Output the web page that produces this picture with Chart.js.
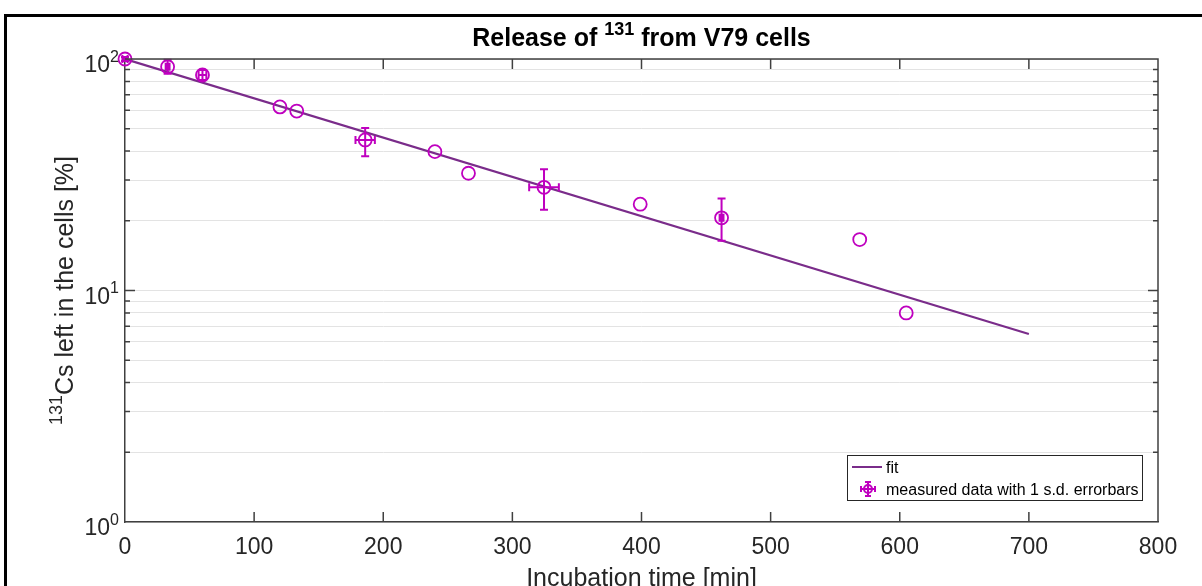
<!DOCTYPE html>
<html>
<head>
<meta charset="utf-8">
<script src="https://cdn.jsdelivr.net/npm/chart.js@4"></script>
<style>
  html, body { margin: 0; padding: 0; background: #fff; }
  canvas { display: block; }
</style>
</head>
<body>
<canvas id="releaseChart" width="1202" height="586"></canvas>
<script>
// measured points
const timeMin = [0, 33, 60, 120, 133, 186, 240, 266, 324.5, 399, 462, 569, 605];
const cellsLeft = [100, 92.6, 85.3, 62.1, 59.6, 44.7, 39.8, 32.1, 27.9, 23.6, 20.6, 16.6, 8.0];
// 1 s.d. error bars (0 = none drawn)
const timeErr = [2, 1.5, 3, 0, 0, 7.5, 0, 0, 11.5, 0, 1.5, 0, 0];
const cellsLow = [98, 86.3, 81.2, 0, 0, 38, 0, 0, 22.3, 0, 16.4, 0, 0];
const cellsHigh = [102, 99.2, 89.6, 0, 0, 50.4, 0, 0, 33.4, 0, 25.0, 0, 0];

// exponential fit, end points
const fitTime = [0, 700];
const fitValue = [100, 6.49];

// axes
const xTicks = [0, 100, 200, 300, 400, 500, 600, 700, 800];
const yGridValues = [1, 2, 3, 4, 5, 6, 7, 8, 9, 10, 20, 30, 40, 50, 60, 70, 80, 90, 100];
const yDecades = [1, 10, 100];

const FONT = "'Liberation Sans', Arial, Helvetica, sans-serif";
const dataColor = '#bf00bf';
const fitColor = '#7a2c8a';
const axisColor = '#404040';
const textColor = '#262626';

function drawErrorBar(ctx, cx, cy, xl, xr, yt, yb, cap) {
    ctx.beginPath();
    if (yt !== null) {
        ctx.moveTo(cx, yt); ctx.lineTo(cx, yb);
        ctx.moveTo(cx - cap, yt); ctx.lineTo(cx + cap, yt);
        ctx.moveTo(cx - cap, yb); ctx.lineTo(cx + cap, yb);
    }
    if (xl !== null) {
        ctx.moveTo(xl, cy); ctx.lineTo(xr, cy);
        ctx.moveTo(xl, cy - cap); ctx.lineTo(xl, cy + cap);
        ctx.moveTo(xr, cy - cap); ctx.lineTo(xr, cy + cap);
    }
    ctx.stroke();
}

// text with a raised part: parts = [[text, isSup], ...]
function drawRich(ctx, parts, x, y, size, weight, align) {
    const supSize = Math.round(size * 0.7);
    let total = 0;
    parts.forEach(p => {
        ctx.font = `${weight} ${p[1] ? supSize : size}px ${FONT}`;
        total += ctx.measureText(p[0]).width;
    });
    let cx = align === 'center' ? x - total / 2 : (align === 'right' ? x - total : x);
    ctx.textAlign = 'left';
    ctx.textBaseline = 'alphabetic';
    parts.forEach(p => {
        ctx.font = `${weight} ${p[1] ? supSize : size}px ${FONT}`;
        ctx.fillText(p[0], cx, p[1] ? y - size * 0.45 : y);
        cx += ctx.measureText(p[0]).width;
    });
}

const errorBarPlugin = {
    id: 'errorBars',
    afterDatasetsDraw(chart) {
        const { ctx, scales: { x, y } } = chart;
        ctx.save();
        ctx.strokeStyle = dataColor;
        ctx.lineWidth = 2;
        timeMin.forEach((t, i) => {
            const cx = x.getPixelForValue(t);
            const cy = y.getPixelForValue(cellsLeft[i]);
            const hasY = cellsHigh[i] > 0;
            const hasX = timeErr[i] > 0;
            if (!hasX && !hasY) return;
            drawErrorBar(ctx, cx, cy,
                hasX ? x.getPixelForValue(t - timeErr[i]) : null,
                hasX ? x.getPixelForValue(t + timeErr[i]) : null,
                hasY ? y.getPixelForValue(cellsHigh[i]) : null,
                hasY ? y.getPixelForValue(cellsLow[i]) : null, 4);
        });
        ctx.restore();
    }
};

const decorPlugin = {
    id: 'decor',
    afterDraw(chart) {
        const { ctx, chartArea: a, scales: { x, y } } = chart;
        ctx.save();

        // box top/right and inner tick marks
        ctx.strokeStyle = axisColor;
        ctx.lineWidth = 1.5;
        ctx.beginPath();
        ctx.moveTo(a.left, a.top); ctx.lineTo(a.right, a.top); ctx.lineTo(a.right, a.bottom);
        xTicks.slice(1, -1).forEach(v => {
            const px = x.getPixelForValue(v);
            ctx.moveTo(px, a.bottom); ctx.lineTo(px, a.bottom - 10);
            ctx.moveTo(px, a.top); ctx.lineTo(px, a.top + 10);
        });
        yGridValues.slice(1, -1).forEach(v => {
            const py = y.getPixelForValue(v);
            const len = yDecades.includes(v) ? 10 : 5;
            ctx.moveTo(a.left, py); ctx.lineTo(a.left + len, py);
            ctx.moveTo(a.right, py); ctx.lineTo(a.right - len, py);
        });
        ctx.stroke();

        // y tick labels 10^n
        ctx.fillStyle = textColor;
        yDecades.forEach((v, n) => {
            const py = y.getPixelForValue(v);
            drawRich(ctx, [['10', false], [String(n), true]], a.left - 6, py + 13, 23, 'normal', 'right');
        });

        // title
        ctx.fillStyle = '#000';
        drawRich(ctx, [['Release of ', false], ['131', true], [' from V79 cells', false]],
            (a.left + a.right) / 2, 46, 25, 'bold', 'center');

        // axis titles
        ctx.fillStyle = textColor;
        ctx.font = `25px ${FONT}`;
        ctx.textAlign = 'center';
        ctx.textBaseline = 'alphabetic';
        ctx.fillText('Incubation time [min]', (a.left + a.right) / 2, 586);

        ctx.save();
        ctx.translate(73, (a.top + a.bottom) / 2);
        ctx.rotate(-Math.PI / 2);
        drawRich(ctx, [['131', true], ['Cs left in the cells [%]', false]], 0, 0, 25, 'normal', 'center');
        ctx.restore();

        // legend
        const lx = 847, ly = 455, lw = 295, lh = 45;
        ctx.fillStyle = '#fff';
        ctx.fillRect(lx, ly, lw, lh);
        ctx.strokeStyle = '#262626';
        ctx.lineWidth = 1;
        ctx.strokeRect(lx + 0.5, ly + 0.5, lw, lh);
        ctx.strokeStyle = fitColor;
        ctx.lineWidth = 2;
        ctx.beginPath();
        ctx.moveTo(852, 467); ctx.lineTo(882, 467);
        ctx.stroke();
        ctx.strokeStyle = dataColor;
        ctx.beginPath();
        ctx.arc(868, 489, 4, 0, Math.PI * 2);
        ctx.stroke();
        drawErrorBar(ctx, 868, 489, 861, 875, 482, 496, 3);
        ctx.fillStyle = '#000';
        ctx.font = `16px ${FONT}`;
        ctx.textAlign = 'left';
        ctx.fillText('fit', 886, 473);
        ctx.fillText('measured data with 1 s.d. errorbars', 886, 495);

        // outer frame
        ctx.strokeStyle = '#000';
        ctx.lineWidth = 3;
        ctx.strokeRect(5.5, 15.5, 1210, 600);
        ctx.restore();
    }
};

const ctx = document.getElementById('releaseChart').getContext('2d');

new Chart(ctx, {
    type: 'scatter',
    data: {
        datasets: [{
            label: 'fit',
            data: fitTime.map((t, i) => ({ x: t, y: fitValue[i] })),
            showLine: true,
            borderColor: fitColor,
            borderWidth: 2.2,
            pointRadius: 0,
            order: 1
        }, {
            label: 'measured data with 1 s.d. errorbars',
            data: timeMin.map((t, i) => ({ x: t, y: cellsLeft[i] })),
            pointStyle: 'circle',
            pointRadius: 6.5,
            borderColor: dataColor,
            backgroundColor: 'rgba(0,0,0,0)',
            pointBorderWidth: 1.8,
            clip: false,
            order: 0
        }]
    },
    options: {
        responsive: false,
        animation: false,
        layout: { padding: { left: 5, top: 59, right: 44, bottom: 0 } },
        plugins: {
            legend: { display: false },
            title: { display: false },
            tooltip: { enabled: false }
        },
        scales: {
            x: {
                type: 'linear',
                min: 0,
                max: 800,
                afterBuildTicks: s => { s.ticks = xTicks.map(v => ({ value: v })); },
                ticks: { color: textColor, font: { size: 23, family: FONT }, padding: 12, maxRotation: 0 },
                grid: { display: false, drawTicks: false },
                border: { display: true, color: axisColor, width: 1.5 },
                afterFit: s => { s.height = 64; }
            },
            y: {
                type: 'logarithmic',
                min: 1,
                max: 100,
                afterBuildTicks: s => { s.ticks = yGridValues.map(v => ({ value: v })); },
                ticks: { display: false },
                grid: { color: '#e3e3e3', lineWidth: 1, drawTicks: false },
                border: { display: true, color: axisColor, width: 1.5 },
                afterFit: s => { s.width = 120; }
            }
        }
    },
    plugins: [errorBarPlugin, decorPlugin]
});
</script>
</body>
</html>
